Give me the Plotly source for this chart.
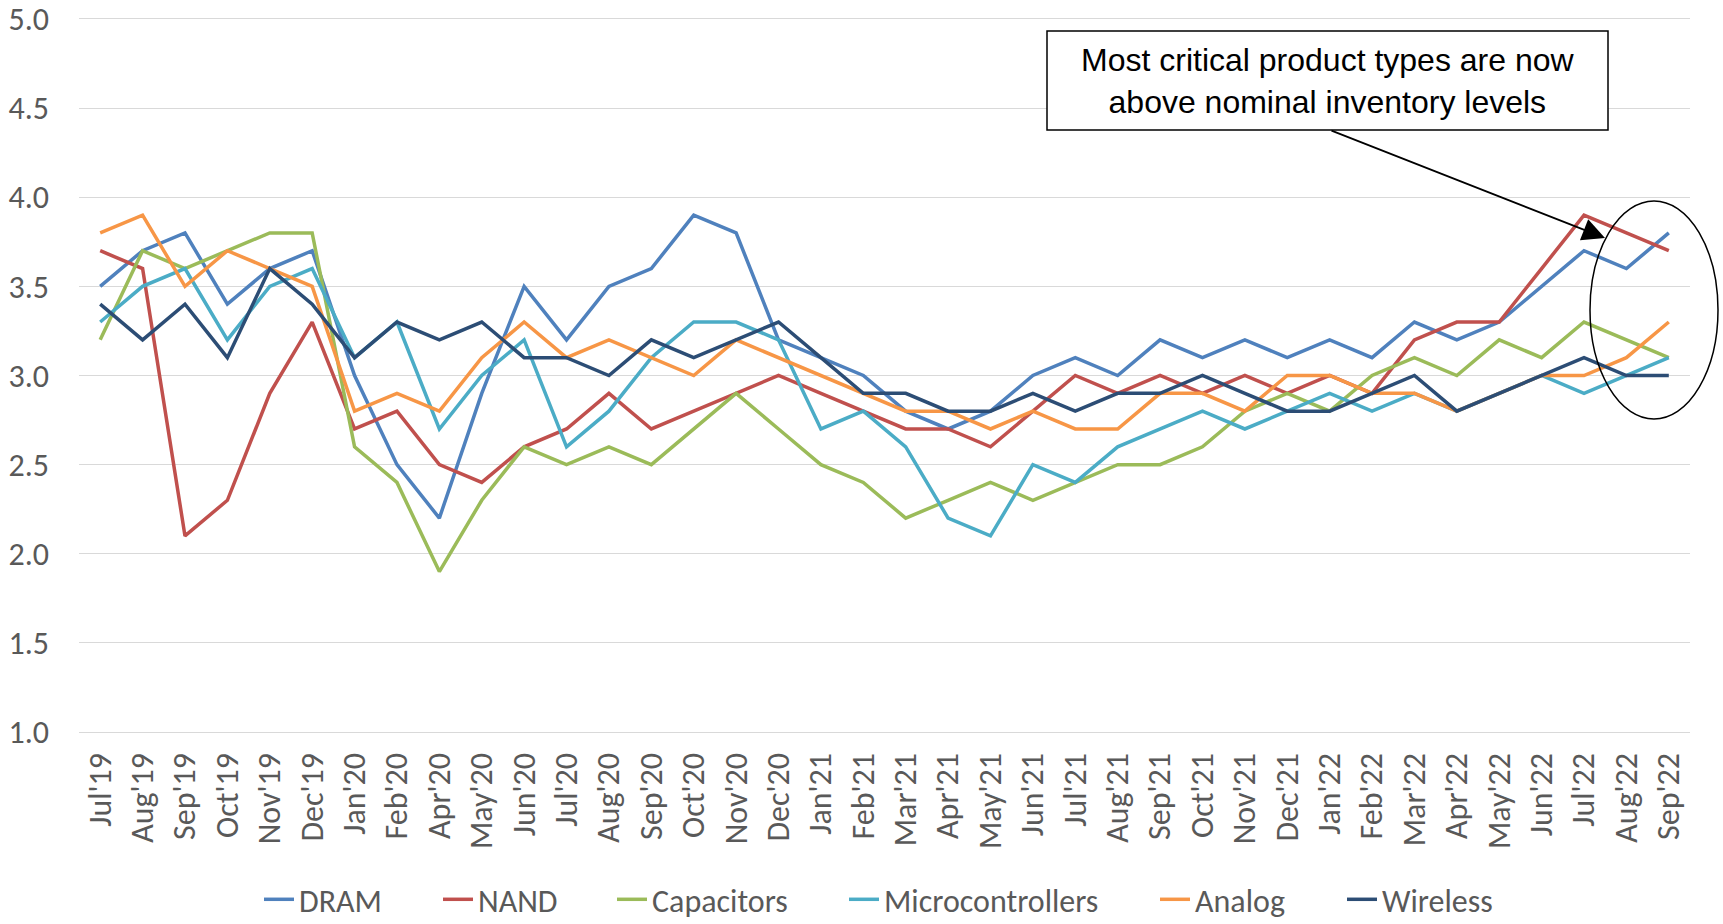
import plotly.graph_objects as go

categories = ["Jul'19","Aug'19","Sep'19","Oct'19","Nov'19","Dec'19",
              "Jan'20","Feb'20","Apr'20","May'20","Jun'20","Jul'20","Aug'20","Sep'20","Oct'20","Nov'20","Dec'20",
              "Jan'21","Feb'21","Mar'21","Apr'21","May'21","Jun'21","Jul'21","Aug'21","Sep'21","Oct'21","Nov'21","Dec'21",
              "Jan'22","Feb'22","Mar'22","Apr'22","May'22","Jun'22","Jul'22","Aug'22","Sep'22"]

dram = [3.5,3.7,3.8,3.4,3.6,3.7,
        3.0,2.5,2.2,2.9,3.5,3.2,3.5,3.6,3.9,3.8,3.2,
        3.1,3.0,2.8,2.7,2.8,3.0,3.1,3.0,3.2,3.1,3.2,3.1,
        3.2,3.1,3.3,3.2,3.3,3.5,3.7,3.6,3.8]
nand = [3.7,3.6,2.1,2.3,2.9,3.3,
        2.7,2.8,2.5,2.4,2.6,2.7,2.9,2.7,2.8,2.9,3.0,
        2.9,2.8,2.7,2.7,2.6,2.8,3.0,2.9,3.0,2.9,3.0,2.9,
        3.0,2.9,3.2,3.3,3.3,3.6,3.9,3.8,3.7]
capacitors = [3.2,3.7,3.6,3.7,3.8,3.8,
              2.6,2.4,1.9,2.3,2.6,2.5,2.6,2.5,2.7,2.9,2.7,
              2.5,2.4,2.2,2.3,2.4,2.3,2.4,2.5,2.5,2.6,2.8,2.9,
              2.8,3.0,3.1,3.0,3.2,3.1,3.3,3.2,3.1]
microcontrollers = [3.3,3.5,3.6,3.2,3.5,3.6,
                    3.1,3.3,2.7,3.0,3.2,2.6,2.8,3.1,3.3,3.3,3.2,
                    2.7,2.8,2.6,2.2,2.1,2.5,2.4,2.6,2.7,2.8,2.7,2.8,
                    2.9,2.8,2.9,2.8,2.9,3.0,2.9,3.0,3.1]
analog = [3.8,3.9,3.5,3.7,3.6,3.5,
          2.8,2.9,2.8,3.1,3.3,3.1,3.2,3.1,3.0,3.2,3.1,
          3.0,2.9,2.8,2.8,2.7,2.8,2.7,2.7,2.9,2.9,2.8,3.0,
          3.0,2.9,2.9,2.8,2.9,3.0,3.0,3.1,3.3]
wireless = [3.4,3.2,3.4,3.1,3.6,3.4,
            3.1,3.3,3.2,3.3,3.1,3.1,3.0,3.2,3.1,3.2,3.3,
            3.1,2.9,2.9,2.8,2.8,2.9,2.8,2.9,2.9,3.0,2.9,2.8,
            2.8,2.9,3.0,2.8,2.9,3.0,3.1,3.0,3.0]

series_names = ["DRAM", "NAND", "Capacitors", "Microcontrollers", "Analog", "Wireless"]
series_values = [dram, nand, capacitors, microcontrollers, analog, wireless]
series_colors = ["#4F81BD", "#C0504D", "#9BBB59", "#4BACC6", "#F79646", "#2C4D75"]
# left pixel where each legend entry's text starts
legend_text_x = [299, 478, 652, 884, 1195, 1382]

annotation_text = "Most critical product types are now<br>above nominal inventory levels"

TICK_FONT = "Calibri, Carlito, Lato, sans-serif"
FS = 32

W, H = 1723, 924
L, R, T, B = 79, 33, 19, 192
pw, ph = W - L - R, H - T - B

def px(x):
    return (x - L) / pw

def py(y):
    return (H - B - y) / ph

fig = go.Figure()
legend_layouts = {}
for i, (name, vals, col, tx) in enumerate(zip(series_names, series_values, series_colors, legend_text_x)):
    lname = "legend" if i == 0 else f"legend{i+1}"
    fig.add_trace(go.Scatter(x=categories, y=vals, mode="lines", name=name,
                             line=dict(color=col, width=3.5), legend=lname))
    legend_layouts[lname] = dict(orientation="h", x=px(tx - 40), xanchor="left",
                                 y=py(927), yanchor="bottom",
                                 font=dict(family=TICK_FONT, size=FS, color="#595959"),
                                 bgcolor="rgba(0,0,0,0)", borderwidth=0)

fig.update_layout(
    width=W, height=H,
    margin=dict(l=L, r=R, t=T, b=B, autoexpand=False),
    paper_bgcolor="white", plot_bgcolor="white",
    showlegend=True,
    xaxis=dict(type="category", range=[-0.5, len(categories) - 0.5], automargin=False,
               showgrid=False, showline=True, mirror=True, linecolor="#D9D9D9", linewidth=1.3,
               tickangle=-90, ticks="", ticklabelstandoff=7,
               tickfont=dict(family=TICK_FONT, size=FS, color="#595959")),
    yaxis=dict(range=[1, 5], dtick=0.5, tick0=1, tickformat=".1f", automargin=False,
               showgrid=True, gridcolor="#D9D9D9", gridwidth=1.3,
               zeroline=False, showline=False, ticks="", ticklabelstandoff=29,
               tickfont=dict(family=TICK_FONT, size=FS, color="#595959")),
    **legend_layouts,
)

# callout box
fig.add_shape(type="rect", xref="paper", yref="paper",
              x0=px(1047), x1=px(1608), y0=py(130), y1=py(31),
              line=dict(color="black", width=1.5), fillcolor="white", layer="above")
fig.add_annotation(xref="paper", yref="paper", x=px(1327.5), y=py(81),
                   xanchor="center", yanchor="middle",
                   text=annotation_text, showarrow=False, align="center",
                   font=dict(family="Arial, Liberation Sans, sans-serif", size=32, color="black"))
# arrow
fig.add_annotation(xref="paper", yref="paper", x=px(1605), y=py(238),
                   ax=1330 - 1605, ay=130 - 238, axref="pixel", ayref="pixel",
                   text="", showarrow=True, arrowhead=2, arrowsize=2.5, arrowwidth=1.8,
                   arrowcolor="black")
# ellipse
fig.add_shape(type="circle", xref="paper", yref="paper",
              x0=px(1590), x1=px(1718), y0=py(419), y1=py(201),
              line=dict(color="black", width=1.5), layer="above")

fig.write_html("out.html", config={"displayModeBar": False},
               post_script="document.body.style.margin='0';document.body.style.overflow='hidden';")
